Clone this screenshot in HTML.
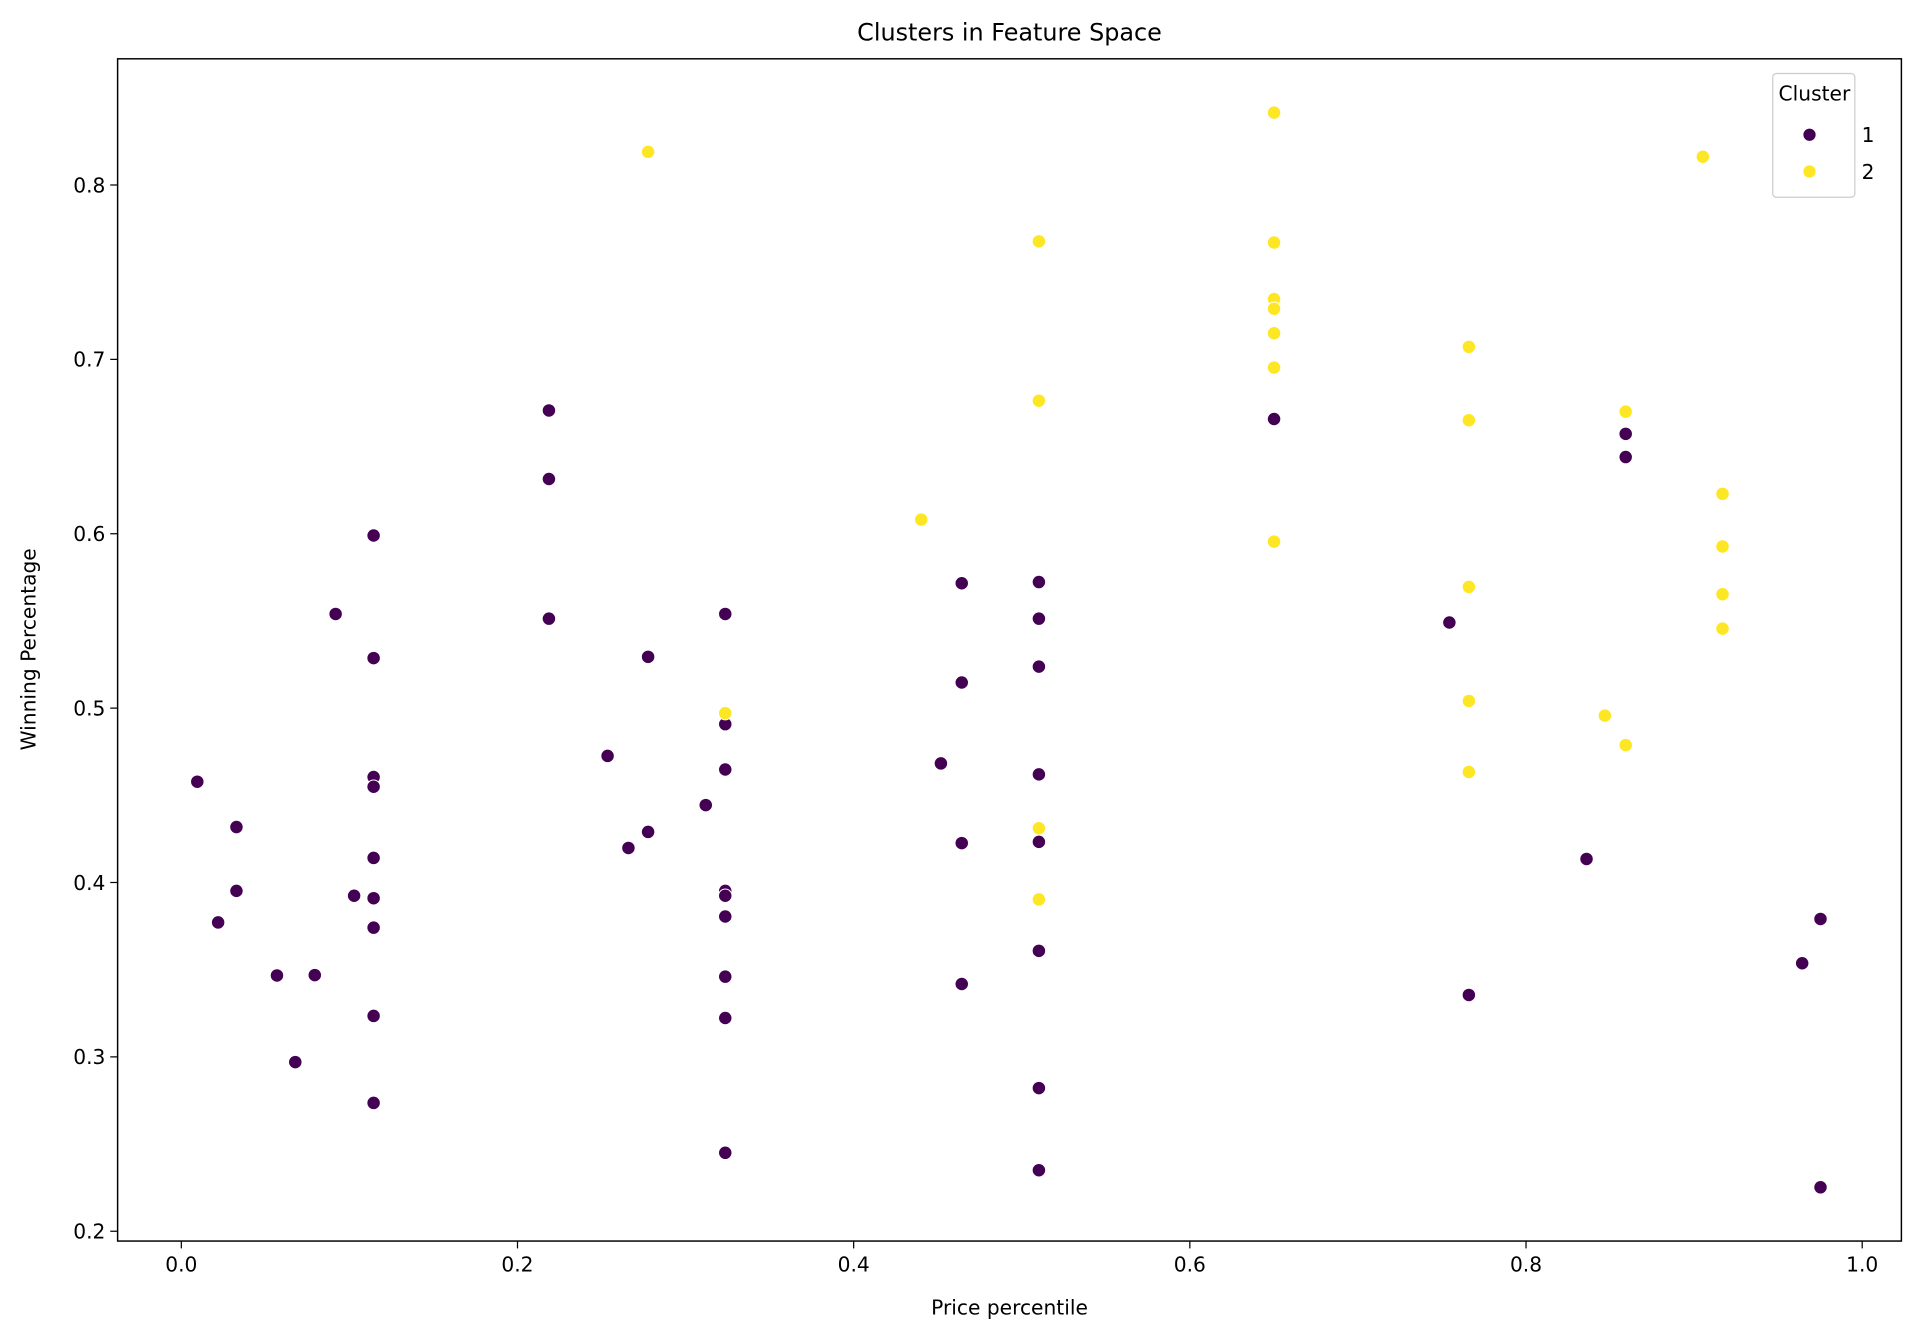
<!DOCTYPE html>
<html><head><meta charset="utf-8"><style>html,body{margin:0;padding:0;background:#fff}svg{display:block}text{font-family:"DejaVu Sans","Liberation Sans",sans-serif;fill:#000}</style></head>
<body>
<svg id="chart" width="1921" height="1342" viewBox="0 0 1568 1095.4" xmlns="http://www.w3.org/2000/svg">
<rect width="1568" height="1095.4" fill="#fff"/>
<text x="824" y="33" font-size="19.5" text-anchor="middle">Clusters in Feature Space</text>
<g id="axes"></g>
<text x="824" y="1073" font-size="16.5" text-anchor="middle">Price percentile</text>
<text transform="translate(29,530) rotate(-90)" font-size="16.5" text-anchor="middle">Winning Percentage</text>
<g>
<rect x="1447" y="60" width="67" height="101" rx="3" fill="#fff" stroke="#ccc" stroke-width="1"/>
<text x="1481" y="82" font-size="16.5" text-anchor="middle">Cluster</text>
<circle cx="1477" cy="110" r="5.5" fill="#440154" stroke="#fff" stroke-width="1"/>
<text x="1530" y="116" font-size="16.5" text-anchor="end">1</text>
<circle cx="1477" cy="140" r="5.5" fill="#fde725" stroke="#fff" stroke-width="1"/>
<text x="1530" y="146" font-size="16.5" text-anchor="end">2</text>
</g>
</svg>
<script>
const xTicks = [0.0, 0.2, 0.4, 0.6, 0.8, 1.0];
const yTicks = [0.2, 0.3, 0.4, 0.5, 0.6, 0.7, 0.8];
const cluster1X = [0.0095,0.0328,0.0328,0.0219,0.0569,0.0794,0.0678,0.0918,0.1028,0.1144,0.1144,0.1144,0.1144,0.1144,0.1144,0.1144,0.1144,0.1144,0.2187,0.2187,0.2187,0.2536,0.266,0.2777,0.2777,0.312,0.3236,0.3236,0.3236,0.3236,0.3236,0.3236,0.3236,0.3236,0.3236,0.4519,0.4643,0.4643,0.4643,0.4643,0.5102,0.5102,0.5102,0.5102,0.5102,0.5102,0.5102,0.5102,0.6501,0.7544,0.766,0.836,0.8593,0.8593,0.9643,0.9752,0.9752];
const cluster1Y = [0.4578,0.4318,0.3952,0.3771,0.3467,0.3469,0.2970,0.554,0.3924,0.599,0.5287,0.4605,0.4549,0.4141,0.391,0.3741,0.3235,0.2736,0.6707,0.6314,0.5513,0.4726,0.4198,0.5294,0.429,0.4444,0.554,0.4908,0.4648,0.3952,0.3924,0.3805,0.346,0.3223,0.2450,0.4683,0.5716,0.5147,0.4226,0.3418,0.5723,0.5513,0.5238,0.4620,0.4233,0.3608,0.2821,0.2350,0.6658,0.5491,0.3355,0.4135,0.6573,0.644,0.3537,0.3791,0.2252];
const cluster2X = [0.2777,0.3236,0.4402,0.5102,0.5102,0.5102,0.5102,0.6501,0.6501,0.6501,0.6501,0.6501,0.6501,0.6501,0.766,0.766,0.766,0.766,0.766,0.8469,0.8593,0.8593,0.9052,0.9169,0.9169,0.9169,0.9169];
const cluster2Y = [0.819,0.4971,0.6081,0.7677,0.6763,0.4311,0.3903,0.8415,0.767,0.7346,0.729,0.715,0.6953,0.5955,0.7072,0.6651,0.5695,0.5041,0.4634,0.4957,0.67,0.4788,0.8162,0.6229,0.5927,0.5653,0.5456];

const NS='http://www.w3.org/2000/svg';
const L=96,R=1552,T=48,B=1013;
function sx(v){return 148+(v-0)*(1520-148)/1.0;}
function sy(v){return 1005-(v-0.2)*(1005-151)/0.6;}
const g=document.getElementById('axes');
function mk(tag,attrs){const e=document.createElementNS(NS,tag);for(const k in attrs)e.setAttribute(k,attrs[k]);g.appendChild(e);return e;}
xTicks.forEach(t=>{
  const x=sx(t);
  const l=mk('line',{x1:x,x2:x,y1:B,y2:B+6,stroke:'#000','stroke-width':1});
  
  
  const tx=mk('text',{x:x,y:B+25,'font-size':16.5,'text-anchor':'middle'});
  tx.textContent=t.toFixed(1);
  
  
});
yTicks.forEach(t=>{
  const y=sy(t);
  const l=mk('line',{x1:L-6,x2:L,y1:y,y2:y,stroke:'#000','stroke-width':1});
  
  
  const tx=mk('text',{x:L-10,y:y+6,'font-size':16.5,'text-anchor':'end'});
  tx.textContent=t.toFixed(1);
  
  
});
function drawSeries(xs,ys,color,name){
  xs.forEach((v,i)=>{
    const c=mk('circle',{cx:sx(v),cy:sy(ys[i]),r:5.5,fill:color,stroke:'#fff','stroke-width':0.8});
    
    
  });
}
drawSeries(cluster1X,cluster1Y,'#440154','point-cluster-1');
drawSeries(cluster2X,cluster2Y,'#fde725','point-cluster-2');
const fr=mk('rect',{x:L,y:T,width:R-L,height:B-T,fill:'none',stroke:'#000','stroke-width':1.2});


</script>
</body></html>
